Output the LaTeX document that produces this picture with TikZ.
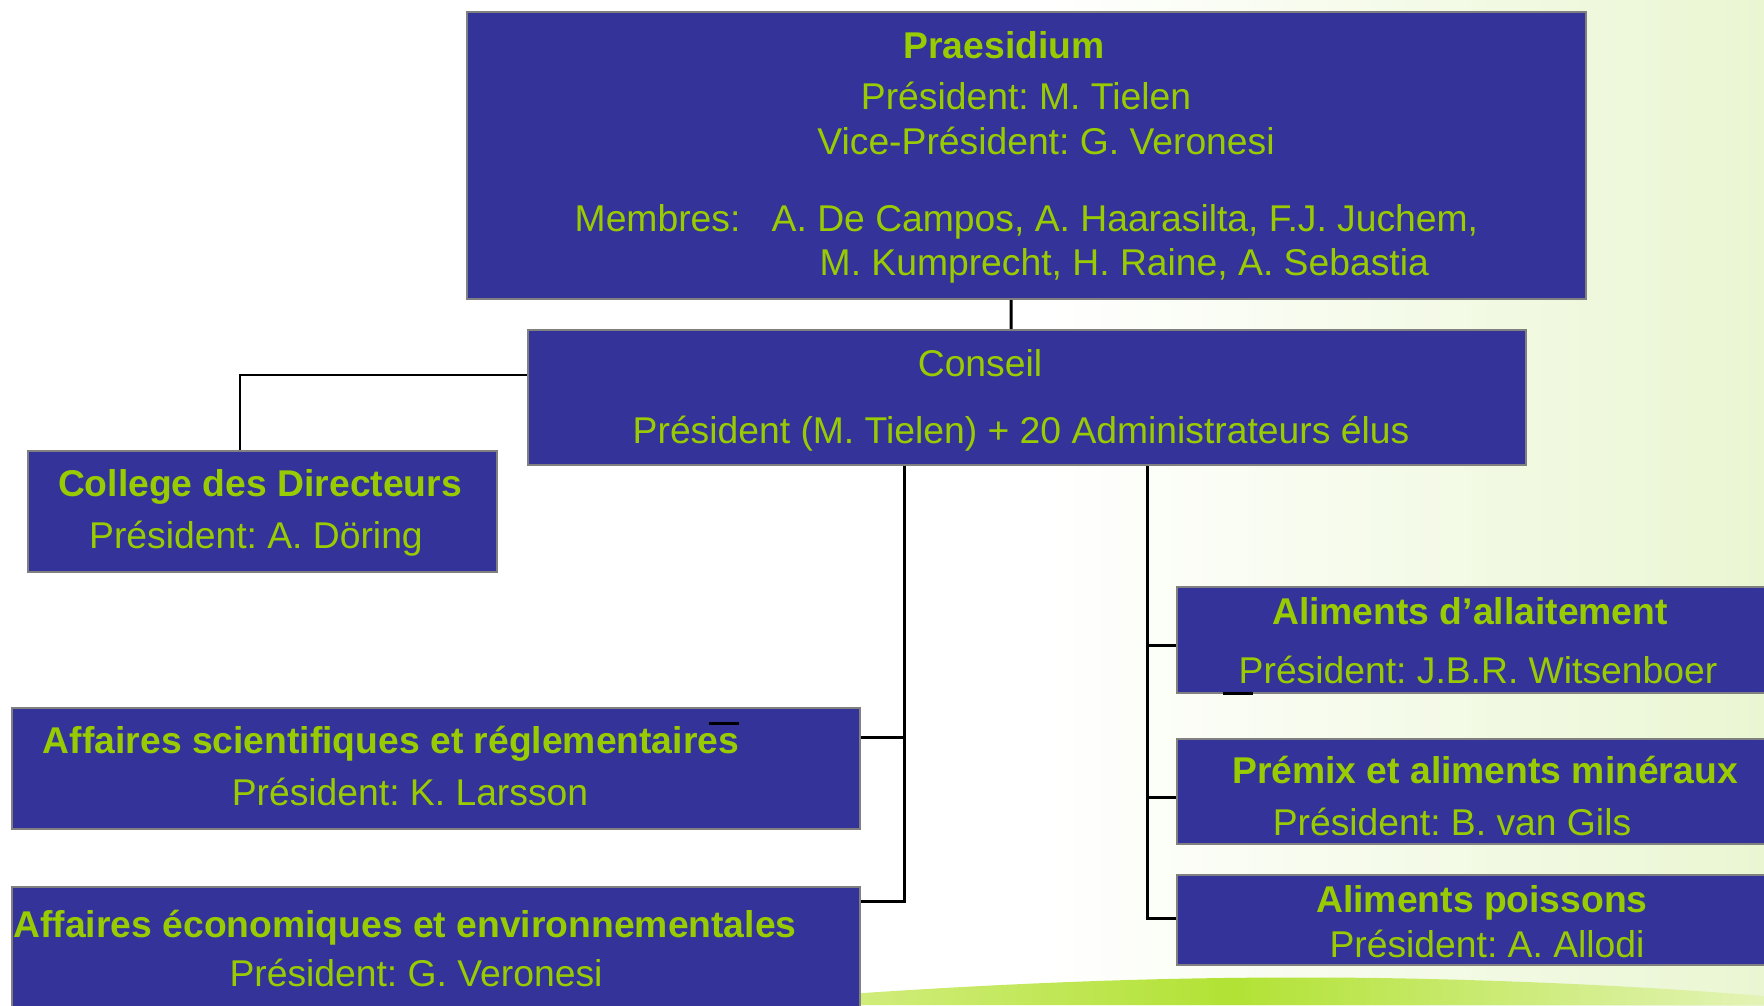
\documentclass[tikz,border=0pt]{standalone}
\usepackage{fontspec}
\setmainfont{Liberation Sans}
\usetikzlibrary{positioning}
\definecolor{orgblue}{HTML}{333399}
\definecolor{orggreen}{HTML}{99CC00}
\definecolor{orgedge}{HTML}{808080}
\definecolor{bgpale}{HTML}{EAF6D2}
\definecolor{swlight}{HTML}{DDF19A}
\definecolor{swbright}{HTML}{B2E234}
\frenchspacing

\begin{document}
\begin{tikzpicture}[x=0.01cm, y=-0.01cm,
    box/.style={draw=orgedge, line width=0.6pt, fill=orgblue, inner sep=0pt},
    txt/.style={text=orggreen, font=\fontsize{10.6}{12.7}\selectfont, anchor=base, inner sep=0pt},
    ttl/.style={txt, font=\fontsize{10.6}{12.7}\selectfont\bfseries},
    link/.style={draw=black, line width=0.85pt},
    thinlink/.style={draw=black, line width=0.55pt}]
  \useasboundingbox (0,0) rectangle (1764,1005);
  % background
  \fill[white] (0,0) rectangle (1764,1005);
  \shade[left color=white, right color=bgpale] (1050,0) rectangle (1764,1005);
  \shade[left color=swlight, right color=swlight!50!bgpale, middle color=swbright] (700,1005) .. controls (950,985) and (1150,975) .. (1380,978) .. controls (1560,981) and (1690,990) .. (1764,996) -- (1764,1005) -- cycle;

  % boxes
  \node[box, minimum width=11.19cm, minimum height=2.87cm] (pr) at (1026.5,155.5) {};
  \node[box, minimum width=9.98cm, minimum height=1.35cm] (co) at (1027,397.5) {};
  \node[box, minimum width=4.69cm, minimum height=1.21cm] (cd) at (262.5,511.5) {};
  \node[box, minimum width=8.48cm, minimum height=1.21cm] (sci) at (436,768.5) {};
  \node[box, minimum width=8.48cm, minimum height=1.30cm] (eco) at (436,952) {};
  \node[box, minimum width=5.98cm, minimum height=1.06cm] (al) at (1476,640) {};
  \node[box, minimum width=5.98cm, minimum height=1.05cm] (pm) at (1476,791.5) {};
  \node[box, minimum width=5.98cm, minimum height=0.90cm] (ps) at (1476,920) {};

  % texts
  \node[ttl] (prT) at (1004,58) {Praesidium};
  \node[txt] (prP) at (1026,109) {Président: M. Tielen};
  \node[txt] (prV) at (1046,154) {Vice-Président: G. Veronesi};
  \node[txt, anchor=base west] (prM) at (574,231) {Membres:};
  \node[txt, anchor=base west] (prM1) at (771,231) {A. De Campos, A. Haarasilta, F.J. Juchem,};
  \node[txt, anchor=base west] (prM2) at (819,275) {M. Kumprecht, H. Raine, A. Sebastia};
  \node[txt] (coT) at (980,376) {Conseil};
  \node[txt] (coP) at (1021,443) {Président (M. Tielen) + 20 Administrateurs élus};
  \node[ttl] (cdT) at (260,496) {College des Directeurs};
  \node[txt] (cdP) at (256,548) {Président: A. Döring};
  \node[ttl] (sciT) at (391,753) {Affaires scientifiques et réglementaires};
  \node[txt] (sciP) at (410,805) {Président: K. Larsson};
  \node[ttl] (ecoT) at (405,937) {Affaires économiques et environnementales};
  \node[txt] (ecoP) at (416,986) {Président: G. Veronesi};
  \node[ttl] (alT) at (1470,624) {Aliments d’allaitement};
  \node[txt] (alP) at (1478,683) {Président: J.B.R. Witsenboer};
  \node[ttl] (pmT) at (1485,783) {Prémix et aliments minéraux};
  \node[txt] (pmP) at (1452,835) {Président: B. van Gils};
  \node[ttl] (psT) at (1482,912) {Aliments poissons};
  \node[txt] (psP) at (1487,957) {Président: A. Allodi};

  % links
  \draw[link] ([xshift=-1.55mm]pr.south) -- ([xshift=-1.6mm]co.north);
  \draw[thinlink] ([yshift=-4.6mm]co.north west) -| ([xshift=-2.25mm]cd.north);
  \coordinate (lb) at ([xshift=-12.2mm]co.south);
  \coordinate (rb) at ([xshift=12mm]co.south);
  \draw[link] (lb) |- ([yshift=-3.1mm]sci.north east);
  \draw[link] (lb) |- ([yshift=-1.6mm]eco.north east);
  \draw[link] (rb) |- ([yshift=-6mm]al.north west);
  \draw[link] (rb) |- ([yshift=-6mm]pm.north west);
  \draw[link] (rb) |- ([yshift=-4.5mm]ps.north west);
  % stray marks
  \draw[link] (709,723) -- (739,723);
  \draw[link] (1223,693) -- (1253,693);
\end{tikzpicture}
\end{document}
